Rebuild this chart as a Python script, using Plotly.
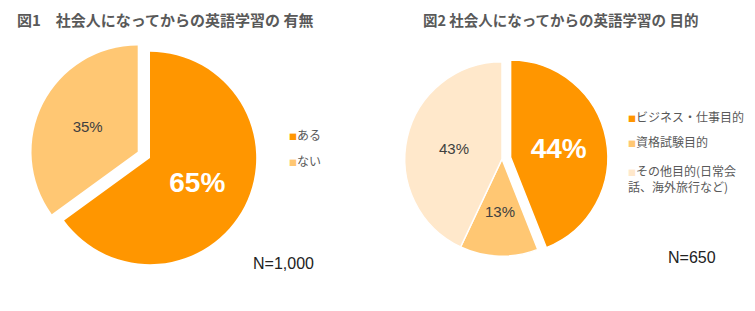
import math
import plotly.graph_objects as go

# ---- data ----
labels1 = ["ある", "ない"]
values1 = [65, 35]
colors1 = ["#FF9600", "#FFC773"]
title1 = "図1　社会人になってからの英語学習の 有無"
n1 = "N=1,000"

labels2 = ["ビジネス・仕事目的", "資格試験目的", "その他目的(日常会<br>話、海外旅行など)"]
values2 = [44, 13, 43]
colors2 = ["#FF9600", "#FFC773", "#FFE8CB"]
title2 = "図2 社会人になってからの英語学習の 目的"
n2 = "N=650"

JP = "Noto Sans CJK JP"
LAT = "Liberation Sans, Arial, Noto Sans CJK JP"
GRAY = "#595959"

W, H = 755, 311
dom2_x = [396 / W, 608 / W]
dom2_y = [1 - 265 / H, 1 - 53 / H]
pull2 = [0.09, 0, 0]

fig = go.Figure()

fig.add_trace(go.Pie(
    labels=labels1, values=values1, sort=False, direction="clockwise",
    marker=dict(colors=colors1, line=dict(color="white", width=0)),
    pull=[0, 0.13],
    texttemplate=["<b>%{value}%</b>", "%{value}%"], textposition="inside",
    insidetextorientation="horizontal",
    textfont=dict(family=LAT, size=[28, 15], color=["white", "#404040"]),
    domain=dict(x=[30 / W, 270 / W], y=[1 - 278 / H, 1 - 38 / H]),
    showlegend=False, hoverinfo="skip",
))

fig.add_trace(go.Pie(
    labels=labels2, values=values2, sort=False, direction="clockwise",
    marker=dict(colors=colors2, line=dict(color="white", width=1.5)),
    pull=pull2,
    texttemplate=["<b>%{value}%</b>", "%{value}%", "%{value}%"],
    textposition=["inside", "none", "inside"],
    insidetextorientation="horizontal",
    textfont=dict(family=LAT, size=[28, 15, 15], color=["white", "#404040", "#404040"]),
    domain=dict(x=dom2_x, y=dom2_y),
    showlegend=False, hoverinfo="skip",
))

ann = []
# titles
ann.append(dict(text="<b>" + title1 + "</b>", x=15 / W, y=1 - 19 / H, xanchor="left", yanchor="middle",
                font=dict(family=JP, size=15, color=GRAY)))
ann.append(dict(text="<b>" + title2 + "</b>", x=421 / W, y=1 - 19 / H, xanchor="left", yanchor="middle",
                font=dict(family=JP, size=14.5, color=GRAY)))
# N labels
ann.append(dict(text=n1, x=251 / W, y=1 - 263 / H, xanchor="left", yanchor="middle",
                font=dict(family=LAT, size=16, color="#222222")))
ann.append(dict(text=n2, x=666 / W, y=1 - 257 / H, xanchor="left", yanchor="middle",
                font=dict(family=LAT, size=16, color="#222222")))

# label for the narrow slice (13%) placed nearer the centre, along its bisector
cx_px = (dom2_x[0] + dom2_x[1]) / 2 * W
cy_px = (1 - (dom2_y[0] + dom2_y[1]) / 2) * H
size_px = min((dom2_x[1] - dom2_x[0]) * W, (dom2_y[1] - dom2_y[0]) * H)
r_px = size_px / 2 / (1 + max(pull2))
tot = sum(values2)
mid = (values2[0] + values2[1] / 2) / tot * 2 * math.pi
lx = cx_px + 0.54 * r_px * math.sin(mid)
ly = cy_px - 0.54 * r_px * math.cos(mid)
ann.append(dict(text=f"{values2[1]}%", x=lx / W, y=1 - ly / H, xanchor="center", yanchor="middle",
                font=dict(family=LAT, size=15, color="#404040")))

# legends
leg1_y = [134, 160]
for lab, col, yy in zip(labels1, colors1, leg1_y):
    ann.append(dict(text=f"<span style='color:{col};font-size:8px'>■</span>" + lab,
                    x=287 / W, y=1 - yy / H, xanchor="left", yanchor="middle", align="left",
                    font=dict(family=JP, size=12, color=GRAY)))
leg2_y = [116, 141, 178]
for lab, col, yy in zip(labels2, colors2, leg2_y):
    ann.append(dict(text=f"<span style='color:{col};font-size:8px'>■</span>" + lab,
                    x=626 / W, y=1 - yy / H, xanchor="left", yanchor="middle", align="left",
                    font=dict(family=JP, size=12, color=GRAY)))

for a in ann:
    a.update(xref="paper", yref="paper", showarrow=False)

fig.update_layout(
    width=W, height=H, margin=dict(l=0, r=0, t=0, b=0),
    paper_bgcolor="white", plot_bgcolor="white",
    annotations=ann, showlegend=False,
)

fig.write_html("out.html")
